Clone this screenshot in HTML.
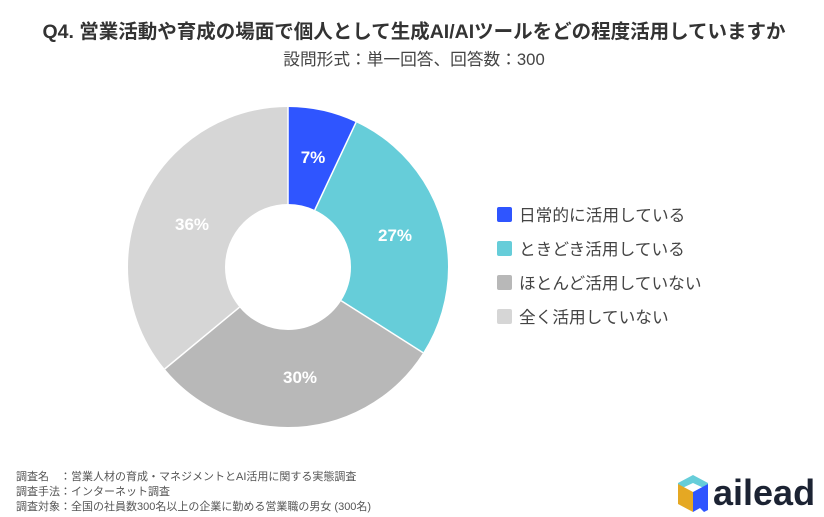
<!DOCTYPE html>
<html><head><meta charset="utf-8"><style>
body{margin:0;width:824px;height:517px;background:#fff;position:relative;overflow:hidden;font-family:"Liberation Sans","Noto Sans CJK JP",sans-serif;}
.t{position:absolute;white-space:nowrap;}
</style></head><body>
<div class="t" style="left:0;width:828px;text-align:center;top:15px;font-size:19.5px;font-weight:bold;color:#333;">Q4. 営業活動や育成の場面で個人として生成AI/AIツールをどの程度活用していますか</div>
<div class="t" style="left:0;width:828px;text-align:center;top:46px;font-size:16.7px;color:#444;">設問形式：単一回答、回答数：300</div>
<svg width="824" height="517" style="position:absolute;left:0;top:0">
<g transform="rotate(-90 288 267)" fill="none" stroke-width="97">
<circle cx="288" cy="267" r="111.5" stroke="#2f55ff" stroke-dasharray="49.04 700.6" stroke-dashoffset="0"/>
<circle cx="288" cy="267" r="111.5" stroke="#66cdd9" stroke-dasharray="189.16 700.6" stroke-dashoffset="-49.04"/>
<circle cx="288" cy="267" r="111.5" stroke="#b8b8b8" stroke-dasharray="210.18 700.6" stroke-dashoffset="-238.2"/>
<circle cx="288" cy="267" r="111.5" stroke="#d6d6d6" stroke-dasharray="252.22 700.6" stroke-dashoffset="-448.38"/>
</g>
<g stroke="#fff" stroke-width="1.5">
<line x1="288" y1="204" x2="288" y2="106"/>
<line x1="314.8" y1="210" x2="356.1" y2="122.2"/>
<line x1="341.2" y1="300.8" x2="423.1" y2="352.7"/>
<line x1="239.5" y1="307.2" x2="164.7" y2="369"/>
</g>
<g fill="#fff" font-weight="bold" font-size="17" text-anchor="middle" font-family="Liberation Sans,sans-serif">
<text x="313" y="163">7%</text>
<text x="395" y="241">27%</text>
<text x="300" y="383">30%</text>
<text x="192" y="230">36%</text>
</g>
<rect x="497" y="207" width="15" height="15" rx="2" fill="#2f55ff"/>
<rect x="497" y="241" width="15" height="15" rx="2" fill="#66cdd9"/>
<rect x="497" y="275" width="15" height="15" rx="2" fill="#b8b8b8"/>
<rect x="497" y="309" width="15" height="15" rx="2" fill="#d6d6d6"/>
<g fill="#444" font-size="16.7" font-family="Liberation Sans,Noto Sans CJK JP,sans-serif">
<text x="519" y="221">日常的に活用している</text>
<text x="519" y="255">ときどき活用している</text>
<text x="519" y="289">ほとんど活用していない</text>
<text x="519" y="323">全く活用していない</text>
</g>
<polygon points="693,475 708,483 708,490 693,483 678,490 678,483" fill="#66cdd9"/>
<polygon points="678,484 693,492 693,512 678,504" fill="#e5a823"/>
<polygon points="708,484 693,492 693,512 700,508 704,512 708,510" fill="#2f55ff"/>
</svg>
<div class="t" style="left:16px;top:470px;font-size:11px;line-height:15px;color:#555;">調査名　：営業人材の育成・マネジメントとAI活用に関する実態調査<br>調査手法：インターネット調査<br>調査対象：全国の社員数300名以上の企業に勤める営業職の男女 (300名)</div>
<div class="t" style="left:713px;top:472px;font-size:36px;font-weight:bold;color:#1c2333;">ailead</div>
</body></html>
